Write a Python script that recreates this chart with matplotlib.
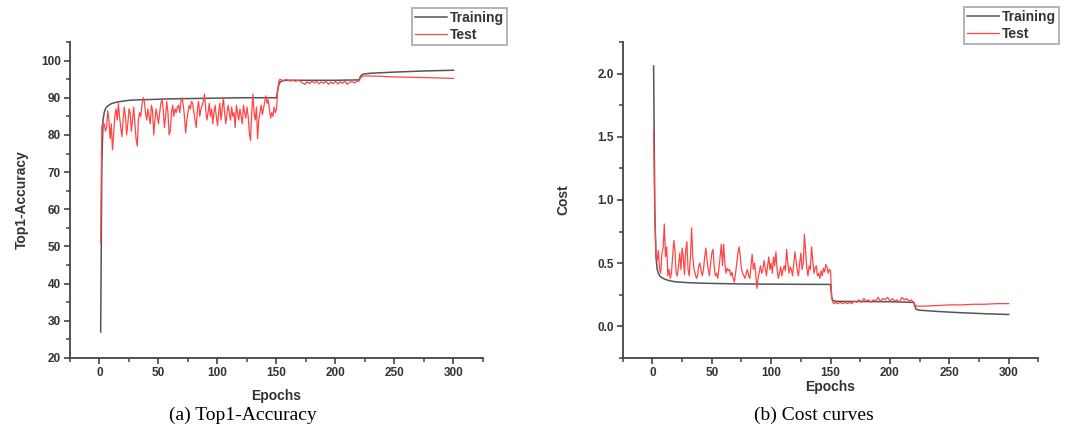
import numpy as np
import matplotlib
matplotlib.use("Agg")
import matplotlib.pyplot as plt
from matplotlib.ticker import MultipleLocator, FormatStrFormatter

plt.rcParams["font.family"] = ["Liberation Sans", "DejaVu Sans"]

# ---- Top1-accuracy ----
train_acc_epochs = [1, 2, 3, 4, 5, 6, 8, 10, 13, 16, 20, 25, 30, 40, 50, 60, 80, 100, 120,
                    149, 150, 151, 152, 153, 155, 160, 180, 200, 219, 220, 221, 222, 224,
                    230, 250, 275, 300]
train_acc = [27, 72, 84, 86, 87, 87.5, 88, 88.4, 88.7, 88.9, 89.1, 89.3, 89.4, 89.5, 89.6,
             89.7, 89.8, 89.9, 90.0, 90.0, 90.0, 92.0, 93.5, 94.2, 94.6, 94.7, 94.7, 94.7,
             94.8, 94.8, 95.6, 96.1, 96.4, 96.6, 96.9, 97.2, 97.4]

# epochs 1..150, one value per epoch
test_acc_early = [
    51, 82.5, 82, 83, 81, 82, 86.5, 84, 79, 83,
    76, 80, 85, 87, 84, 88.5, 85, 82, 79.5, 84,
    87.5, 85, 80, 83, 87, 86, 81, 84, 87.5, 83,
    79, 77, 84, 86, 85, 88, 90, 89, 86, 84,
    87, 85, 83, 88, 86.5, 80, 84, 87, 85, 83,
    86, 88.5, 89.5, 87, 82, 85, 89, 86, 80, 81,
    86, 88, 85, 87, 86, 87.5, 88, 86, 89, 90,
    88, 85, 80.5, 84, 86, 88, 87, 89, 88.5, 86,
    84, 82, 87, 89, 85, 87, 88, 89, 91, 87,
    84, 86, 88.5, 85, 87, 83, 86, 88, 85, 82.5,
    86, 88.5, 84, 87, 90, 86, 83, 85.5, 88, 86,
    84, 87.5, 85, 86, 82, 88, 86, 84, 87, 85,
    83, 88, 86, 84.5, 87.5, 85, 80.5, 78.5, 86, 91,
    86, 84, 87.5, 79, 84, 86, 88, 85.5, 87, 89,
    90.5, 88.5, 89.5, 87, 84.5, 86, 85, 87.5, 86, 87,
]
test_acc_late_epochs = [151, 152, 153, 154, 156, 158, 160, 162, 164, 166, 168, 170, 172, 174,
                        176, 178, 180, 182, 184, 186, 188, 190, 192, 194, 196, 198, 200, 202,
                        204, 206, 208, 210, 212, 214, 216, 218, 220, 221, 223, 226, 235, 250,
                        265, 280, 290, 300]
test_acc_late = [92.0, 94.5, 95.0, 94.8, 94.6, 94.9, 94.7, 94.5, 94.8, 94.4, 94.7, 94.5, 94.0,
                 93.6, 94.3, 93.8, 94.5, 94.0, 94.4, 93.7, 94.3, 93.9, 94.5, 93.6, 94.2, 93.8,
                 94.4, 93.7, 94.3, 93.9, 94.5, 93.6, 94.2, 94.3, 94.0, 94.4, 94.5, 95.3, 95.8,
                 95.9, 95.8, 95.6, 95.5, 95.4, 95.3, 95.2]

# ---- Cost ----
train_cost_epochs = [1, 2, 3, 4, 5, 6, 8, 10, 13, 16, 20, 30, 40, 60, 80, 100, 120, 149, 150,
                     151, 152, 155, 170, 200, 219, 220, 221, 222, 225, 240, 260, 280, 300]
train_cost = [2.06, 0.9, 0.55, 0.45, 0.42, 0.40, 0.385, 0.375, 0.365, 0.358, 0.352, 0.346,
              0.342, 0.338, 0.335, 0.334, 0.333, 0.332, 0.332, 0.23, 0.205, 0.198, 0.197,
              0.195, 0.19, 0.19, 0.16, 0.135, 0.128, 0.118, 0.108, 0.100, 0.094]

test_cost_early = [
    1.55, 0.90, 0.55, 0.52, 0.60, 0.45, 0.42, 0.58, 0.62, 0.81,
    0.55, 0.63, 0.40, 0.45, 0.38, 0.42, 0.55, 0.68, 0.60, 0.42,
    0.40, 0.48, 0.58, 0.45, 0.62, 0.55, 0.41, 0.60, 0.67, 0.45,
    0.40, 0.55, 0.78, 0.55, 0.45, 0.42, 0.38, 0.40, 0.48, 0.50,
    0.44, 0.40, 0.45, 0.55, 0.62, 0.52, 0.45, 0.40, 0.50, 0.58,
    0.61, 0.48, 0.40, 0.42, 0.38, 0.46, 0.55, 0.65, 0.48, 0.65,
    0.50, 0.42, 0.46, 0.44, 0.45, 0.40, 0.43, 0.38, 0.35, 0.42,
    0.50, 0.58, 0.63, 0.55, 0.45, 0.42, 0.40, 0.38, 0.42, 0.45,
    0.40, 0.38, 0.48, 0.57, 0.45, 0.50, 0.42, 0.30, 0.38, 0.43,
    0.48, 0.42, 0.45, 0.52, 0.46, 0.40, 0.48, 0.55, 0.45, 0.50,
    0.42, 0.55, 0.48, 0.59, 0.45, 0.38, 0.42, 0.47, 0.40, 0.45,
    0.48, 0.44, 0.61, 0.50, 0.42, 0.47, 0.45, 0.40, 0.49, 0.59,
    0.52, 0.44, 0.40, 0.50, 0.58, 0.45, 0.50, 0.73, 0.60, 0.46,
    0.40, 0.48, 0.45, 0.63, 0.52, 0.42, 0.46, 0.48, 0.40, 0.42,
    0.38, 0.44, 0.40, 0.46, 0.43, 0.49, 0.47, 0.42, 0.45, 0.44,
]
test_cost_late_epochs = [151, 152, 153, 154, 156, 158, 160, 162, 164, 166, 168, 170, 172, 174,
                         176, 178, 180, 182, 184, 186, 188, 190, 192, 194, 196, 198, 200, 202,
                         204, 206, 208, 210, 212, 214, 216, 218, 220, 221, 223, 230, 240, 250,
                         260, 270, 280, 290, 300]
test_cost_late = [0.22, 0.19, 0.18, 0.19, 0.18, 0.19, 0.18, 0.19, 0.18, 0.19, 0.18, 0.20, 0.19,
                  0.21, 0.19, 0.22, 0.20, 0.21, 0.19, 0.21, 0.20, 0.23, 0.20, 0.22, 0.21, 0.23,
                  0.20, 0.22, 0.20, 0.21, 0.19, 0.23, 0.21, 0.22, 0.20, 0.21, 0.19, 0.17, 0.16,
                  0.16, 0.165, 0.17, 0.17, 0.175, 0.175, 0.18, 0.18]

TRAIN_COLOR = "#555555"
TEST_COLOR = "#ff4545"
INK = "#333333"


def style_axes(ax):
    for side in ("top", "right"):
        ax.spines[side].set_visible(False)
    for side in ("left", "bottom"):
        ax.spines[side].set_linewidth(1.3)
        ax.spines[side].set_color("#444444")
    ax.tick_params(which="major", direction="out", length=4, width=1.2,
                   labelsize=8.5, colors="#444444", labelcolor=INK, pad=2.5)
    ax.tick_params(which="minor", direction="out", length=3, width=1.1, colors="#444444")
    for lab in ax.get_xticklabels() + ax.get_yticklabels():
        lab.set_fontweight("bold")
    ax.xaxis.set_major_locator(MultipleLocator(50))
    ax.xaxis.set_minor_locator(MultipleLocator(25))
    ax.set_xlim(-25, 325)


def add_legend(ax, bbox):
    leg = ax.legend(loc="upper left", bbox_to_anchor=bbox, bbox_transform=ax.figure.transFigure,
                    frameon=True, fancybox=False, handlelength=2.3,
                    handletextpad=0.25, borderpad=0.2, labelspacing=0.25, borderaxespad=0,
                    prop={"size": 10, "weight": "bold"})
    leg.get_frame().set_edgecolor("#999999")
    leg.get_frame().set_linewidth(1.3)
    for t in leg.get_texts():
        t.set_color(INK)


fig = plt.figure(figsize=(10.75, 4.28), dpi=100)

# (a) accuracy
ax1 = fig.add_axes([0.0651, 0.1636, 0.3842, 0.7383])
test_epochs = list(range(1, len(test_acc_early) + 1)) + test_acc_late_epochs
ax1.plot(train_acc_epochs, train_acc, color=TRAIN_COLOR, lw=1.1, label="Training")
ax1.plot(test_epochs, test_acc_early + test_acc_late, color=TEST_COLOR, lw=0.9, label="Test")
ax1.yaxis.set_major_locator(MultipleLocator(10))
ax1.yaxis.set_minor_locator(MultipleLocator(5))
ax1.set_ylim(20, 105)
style_axes(ax1)
ax1.set_xlabel("Epochs", fontsize=10, fontweight="bold", color=INK, labelpad=7)
ax1.set_ylabel("Top1-Accuracy", fontsize=10, fontweight="bold", color=INK, labelpad=9)
add_legend(ax1, (412 / 1075, 1 - 8 / 428))

# (b) cost
ax2 = fig.add_axes([0.5793, 0.1636, 0.3866, 0.7383])
cost_epochs = list(range(1, len(test_cost_early) + 1)) + test_cost_late_epochs
ax2.plot(train_cost_epochs, train_cost, color=TRAIN_COLOR, lw=1.1, label="Training")
ax2.plot(cost_epochs, test_cost_early + test_cost_late, color=TEST_COLOR, lw=0.9, label="Test")
ax2.yaxis.set_major_locator(MultipleLocator(0.5))
ax2.yaxis.set_minor_locator(MultipleLocator(0.25))
ax2.yaxis.set_major_formatter(FormatStrFormatter("%.1f"))
ax2.set_ylim(-0.25, 2.25)
style_axes(ax2)
ax2.set_xlabel("Epochs", fontsize=10, fontweight="bold", color=INK, labelpad=1)
ax2.set_ylabel("Cost", fontsize=10, fontweight="bold", color=INK, labelpad=19)
add_legend(ax2, (964 / 1075, 1 - 7 / 428))

fig.text(243 / 1075, 1 - 415 / 428, "(a) Top1-Accuracy", ha="center", va="center",
         fontsize=14, family="Liberation Serif")
fig.text(814 / 1075, 1 - 415 / 428, "(b) Cost curves", ha="center", va="center",
         fontsize=14, family="Liberation Serif")

fig.savefig("out.png", dpi=100)
